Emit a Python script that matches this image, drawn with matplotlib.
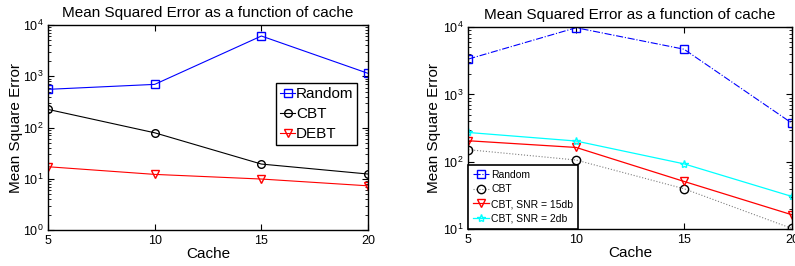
import matplotlib.pyplot as plt
import numpy as np

plt.rcParams['font.family'] = ['Liberation Sans', 'DejaVu Sans']

# 数据
cache = [5, 10, 15, 20]

left_random = [556, 695, 6100, 1140]
left_cbt = [226, 79, 19.4, 12.4]
left_debt = [17.2, 12.2, 9.9, 7.3]

right_random = [3350, 9800, 4700, 375]
right_cbt = [151, 106, 39.7, 10.2]
right_snr15 = [205, 163, 51, 16.3]
right_snr2 = [272, 203, 93, 30.5]

title = 'Mean Squared Error as a function of cache'


def matlab_axes(ax, ylab_x):
    ax.set_yscale('log')
    ax.tick_params(which='both', direction='in', top=True, right=True, labelsize=9)
    ax.tick_params(which='major', length=4)
    ax.tick_params(which='minor', length=2)
    ax.set_xticks(cache)
    ax.set_xlabel('Cache', fontsize=11, labelpad=0)
    ax.set_ylabel('Mean Square Error', fontsize=11)
    ax.yaxis.set_label_coords(ylab_x, 0.5)
    ax.set_title(title, fontsize=11, pad=6)
    for s in ax.spines.values():
        s.set_linewidth(1.0)


fig = plt.figure(figsize=(7.95, 2.66), dpi=100)

# 左图
ax1 = fig.add_axes([0.0604, 0.135, 0.4026, 0.771])
ax1.plot(cache, left_random, color='blue', marker='s', mfc='none', ms=5.5, lw=0.8, label='Random')
ax1.plot(cache, left_cbt, color='black', marker='o', mfc='none', ms=5.5, lw=0.8, label='CBT')
ax1.plot(cache, left_debt, color='red', marker='v', mfc='none', ms=5.5, lw=0.8, label='DEBT')
ax1.set_xlim(5, 20)
ax1.set_ylim(1, 1e4)
ax1.set_yticks([1, 10, 100, 1000, 10000])
matlab_axes(ax1, -0.078)
leg1 = ax1.legend(loc='upper left', bbox_to_anchor=(0.7125, 0.717), fontsize=11, handlelength=1.0,
                  handletextpad=0.05, borderpad=0.25, labelspacing=0.4, fancybox=False,
                  edgecolor='black', framealpha=1, borderaxespad=0)
leg1.get_frame().set_linewidth(1.0)

# 右图
ax2 = fig.add_axes([0.589, 0.139, 0.407, 0.759])
ax2.plot(cache, right_random, color='blue', marker='s', mfc='none', ms=5.5, lw=0.8, ls='-.',
         label='Random')
ax2.plot(cache, right_cbt, color='gray', marker='o', mfc='none', mec='black', ms=6, lw=0.8,
         ls=':', label='CBT')
ax2.plot(cache, right_snr15, color='red', marker='v', mfc='none', ms=6, lw=0.9,
         label='CBT, SNR = 15db')
ax2.plot(cache, right_snr2, color='cyan', marker='*', mfc='none', ms=6, lw=0.9,
         label='CBT, SNR = 2db')
ax2.set_xlim(5, 20)
ax2.set_ylim(10, 1e4)
ax2.set_yticks([10, 100, 1000, 10000])
matlab_axes(ax2, -0.085)
leg2 = ax2.legend(loc='lower left', bbox_to_anchor=(0.0, 0.0), fontsize=7.5, handlelength=1.5,
                  handletextpad=0.2, borderpad=0.5, labelspacing=0.45, fancybox=False,
                  edgecolor='black', framealpha=1, borderaxespad=0)
leg2.get_frame().set_linewidth(1.2)

plt.savefig('out.png', dpi=100)
